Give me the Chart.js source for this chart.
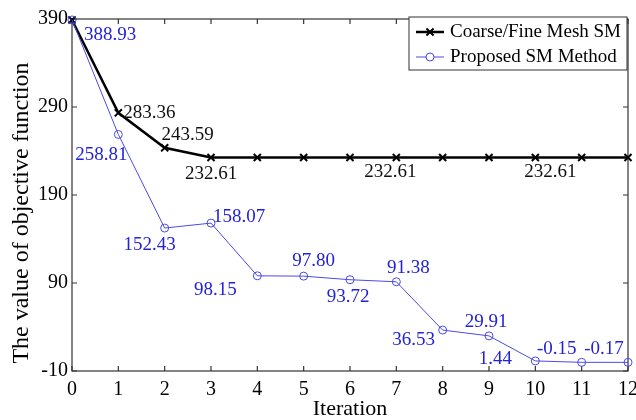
<!DOCTYPE html>
<html>
<head>
<meta charset="utf-8">
<script src="https://cdn.jsdelivr.net/npm/chart.js@4.4.0/dist/chart.umd.min.js"></script>
<style>
  html, body { margin: 0; padding: 0; background: #fff; }
  #wrap { width: 636px; height: 420px; }
</style>
</head>
<body>
<div id="wrap"><canvas id="chart" width="636" height="420"></canvas></div>
<script>
// values
const iterations = [0, 1, 2, 3, 4, 5, 6, 7, 8, 9, 10, 11, 12];
const coarseFine = [388.93, 283.36, 243.59, 232.61, 232.61, 232.61, 232.61, 232.61, 232.61, 232.61, 232.61, 232.61, 232.61];
const proposed = [388.93, 258.81, 152.43, 158.07, 98.15, 97.80, 93.72, 91.38, 36.53, 29.91, 1.44, -0.15, -0.17];
const xTicks = [0, 1, 2, 3, 4, 5, 6, 7, 8, 9, 10, 11, 12];
const yTicks = [-10, 90, 190, 290, 390];
const seriesNames = ["Coarse/Fine Mesh SM", "Proposed SM Method"];
const yTitle = "The value of objective function";

// where each value label sits relative to its point (null = no label)
const coarseLabelPos = [null, [31, 0], [23, -13], [0, 17], null, null, null, [-6, 15], null, null, [15, 15], null, null];
const proposedLabelPos = [[38, 15], [-17, 21], [-15, 17], [28, -6], [-42, 14], [10, -15], [-2, 17], [12, -14], [-29, 10], [-3, -14], [-40, -2], [-25, -13], [-24, -13]];

const FONT = "'Liberation Serif', 'Times New Roman', serif";
const BLUE_LINE = "#4a4ae6";
const BLUE_TEXT = "#2222d8";

function toPoints(values) {
  return values.map((v, i) => ({ x: iterations[i], y: v }));
}

const framePlugin = {
  id: "frame",
  beforeDatasetsDraw(chart) {
    const { ctx, chartArea: a, scales } = chart;
    ctx.save();
    ctx.strokeStyle = "#333";
    ctx.lineWidth = 1.2;
    ctx.strokeRect(a.left, a.top, a.right - a.left, a.bottom - a.top);
    ctx.beginPath();
    xTicks.forEach(t => {
      const x = scales.x.getPixelForValue(t);
      ctx.moveTo(x, a.bottom); ctx.lineTo(x, a.bottom - 5);
      ctx.moveTo(x, a.top); ctx.lineTo(x, a.top + 5);
    });
    yTicks.forEach(t => {
      const y = scales.y.getPixelForValue(t);
      ctx.moveTo(a.left, y); ctx.lineTo(a.left + 5, y);
      ctx.moveTo(a.right, y); ctx.lineTo(a.right - 5, y);
    });
    ctx.stroke();

    // y axis title, sits a bit below the middle of the axis in the original
    ctx.translate(22, (a.top + a.bottom) / 2 + 18);
    ctx.rotate(-Math.PI / 2);
    ctx.font = "24px " + FONT;
    ctx.fillStyle = "#000";
    ctx.textAlign = "center";
    ctx.textBaseline = "middle";
    ctx.fillText(yTitle, 0, 0);
    ctx.restore();
  }
};

const labelPlugin = {
  id: "valueLabels",
  afterDatasetsDraw(chart) {
    const { ctx } = chart;
    ctx.save();
    ctx.font = "19px " + FONT;
    ctx.textAlign = "center";
    ctx.textBaseline = "middle";
    chart.data.datasets.forEach((ds, di) => {
      const meta = chart.getDatasetMeta(di);
      ctx.fillStyle = ds.labelColor;
      meta.data.forEach((pt, i) => {
        const pos = ds.labelPos[i];
        if (!pos) return;
        ctx.fillText(ds.data[i].y.toFixed(2), pt.x + pos[0], pt.y + pos[1]);
      });
    });
    ctx.restore();
  }
};

const legendPlugin = {
  id: "boxLegend",
  afterDraw(chart) {
    const { ctx, chartArea: a } = chart;
    ctx.save();
    ctx.font = "19px " + FONT;
    const textW = Math.max(...chart.data.datasets.map(d => ctx.measureText(d.label).width));
    const w = 7 + 28 + 6 + textW + 6;
    const h = 53;
    const right = a.right - 1;
    const left = right - w;
    const top = a.top - 2;
    ctx.fillStyle = "#fff";
    ctx.fillRect(left, top, w, h);
    ctx.strokeStyle = "#333";
    ctx.lineWidth = 1;
    ctx.strokeRect(left, top, w, h);
    chart.data.datasets.forEach((ds, i) => {
      const y = top + 15 + i * 25;
      ctx.strokeStyle = ds.borderColor;
      ctx.lineWidth = ds.borderWidth;
      ctx.beginPath();
      ctx.moveTo(left + 7, y); ctx.lineTo(left + 35, y);
      ctx.stroke();
      ctx.fillStyle = "#fff";
      ctx.strokeStyle = ds.pointBorderColor;
      ctx.lineWidth = ds.pointBorderWidth;
      Chart.helpers.drawPoint(ctx, {
        pointStyle: ds.pointStyle, radius: ds.pointRadius, borderWidth: ds.pointBorderWidth, rotation: 0
      }, left + 21, y);
      ctx.fillStyle = "#000";
      ctx.textAlign = "left";
      ctx.textBaseline = "middle";
      ctx.fillText(ds.label, left + 41, y);
    });
    ctx.restore();
  }
};

new Chart(document.getElementById("chart"), {
  type: "line",
  data: {
    datasets: [
      {
        label: seriesNames[0],
        data: toPoints(coarseFine),
        borderColor: "#000",
        backgroundColor: "#000",
        borderWidth: 2.5,
        pointStyle: "crossRot",
        pointRadius: 5,
        pointBorderWidth: 2,
        pointBorderColor: "#000",
        labelPos: coarseLabelPos,
        labelColor: "#111",
        clip: false,
        order: 1
      },
      {
        label: seriesNames[1],
        data: toPoints(proposed),
        borderColor: BLUE_LINE,
        backgroundColor: "rgba(0,0,0,0)",
        borderWidth: 1,
        pointStyle: "circle",
        pointRadius: 4,
        pointBorderWidth: 1,
        pointBorderColor: BLUE_LINE,
        labelPos: proposedLabelPos,
        labelColor: BLUE_TEXT,
        clip: false,
        order: 0
      }
    ]
  },
  options: {
    responsive: false,
    animation: false,
    layout: { padding: { top: 19, right: 8, left: 0, bottom: 0 } },
    plugins: {
      legend: { display: false },
      tooltip: { enabled: false }
    },
    scales: {
      x: {
        type: "linear",
        min: 0,
        max: 12,
        grid: { display: false, drawTicks: false },
        border: { display: false },
        afterBuildTicks: s => { s.ticks = xTicks.map(v => ({ value: v })); },
        afterFit: s => { s.height = 49; s.paddingLeft = 0; s.paddingRight = 0; },
        ticks: { color: "#000", padding: 7, maxRotation: 0, autoSkip: false, font: { family: FONT, size: 20 } },
        title: { display: true, text: "Iteration", color: "#000", padding: { top: 1, bottom: 0 }, font: { family: FONT, size: 22, lineHeight: 1 } }
      },
      y: {
        min: -10,
        max: 390,
        grid: { display: false, drawTicks: false },
        border: { display: false },
        afterBuildTicks: s => { s.ticks = yTicks.map(v => ({ value: v })); },
        afterFit: s => { s.width = 72; s.paddingTop = 0; s.paddingBottom = 0; },
        ticks: { color: "#000", padding: 4, autoSkip: false, font: { family: FONT, size: 20 } },
        title: { display: false }
      }
    }
  },
  plugins: [framePlugin, labelPlugin, legendPlugin]
});
</script>
</body>
</html>
